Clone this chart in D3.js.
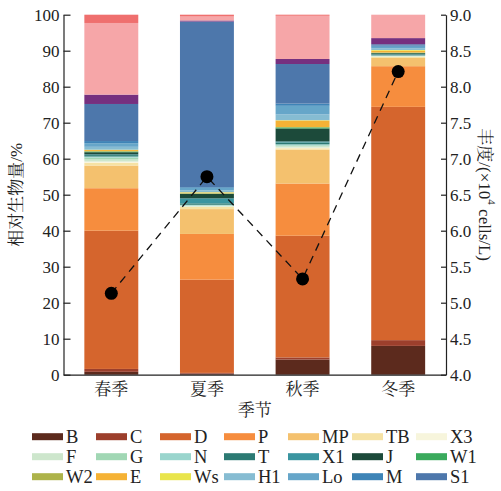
<!DOCTYPE html>
<html>
<head>
<meta charset="utf-8">
<script src="https://cdn.jsdelivr.net/npm/d3@7"></script>
<style>
  body { margin: 0; background: #fff; }
  text { font-family: "Liberation Serif", "Noto Serif CJK SC", "Noto Sans CJK SC", serif; fill: #222; }
</style>
</head>
<body>
<script>
var seasons = ['春季', '夏季', '秋季', '冬季']
var groups = ['B', 'C', 'D', 'P', 'MP', 'TB', 'X3', 'F', 'G', 'N', 'T', 'X1', 'J', 'W1',
              'W2', 'E', 'Ws', 'H1', 'Lo', 'M', 'S1', 'K1', 'K2', 'K3']
var legendGroups = groups.slice(0, 21)
var colors = ['#5c2a1d', '#9c3f2c', '#d5652d', '#f68d3e', '#f4c16e', '#f6e2a4', '#f7f5dc',
              '#cde6cc', '#a1d7b4', '#9ad5cd', '#2c7a73', '#3a95a0', '#1c4a3a', '#3aaa5c',
              '#adb34a', '#f5b235', '#e9e54c', '#86bcd2', '#66a6c9', '#3e84b7', '#4d77ab',
              '#76307f', '#f6a6a8', '#ef6f6e']
// relative biomass (%) per group, one value per season
var B  = [0.8, 0.3, 4.2, 8.0]
var C  = [0.8, 0.2, 0.6, 1.6]
var D  = [38.4, 25.9, 33.8, 64.8]
var P  = [11.8, 12.7, 14.5, 11.3]
var MP = [6.3, 6.9, 9.4, 2.3]
var TB = [0.8, 0.6, 0.4, 0.3]
var X3 = [0.3, 0.1, 0.2, 0.1]
var F  = [0.6, 0.2, 0.4, 0.1]
var G  = [0.5, 0.1, 0.2, 0.1]
var N  = [0.3, 0.2, 0.3, 0.1]
var T  = [0.4, 0.4, 0.5, 0.2]
var X1 = [0.2, 1.4, 0.3, 0.1]
var J  = [0.6, 1.2, 3.6, 0.3]
var W1 = [0.2, 0.1, 0.3, 0.1]
var W2 = [0.1, 0.1, 0.1, 0.1]
var E  = [0.3, 0.2, 1.8, 0.5]
var Ws = [0.1, 0.1, 0.1, 0.2]
var H1 = [0.8, 0.5, 1.6, 0.4]
var Lo = [1.0, 0.7, 2.4, 0.5]
var M  = [0.6, 0.2, 0.6, 0.3]
var S1 = [10.3, 46.0, 11.0, 0.4]
var K1 = [2.6, 0.3, 1.4, 1.7]
var K2 = [19.9, 1.1, 12.0, 6.5]
var K3 = [2.3, 0.5, 0.3, 0]
var values = [B, C, D, P, MP, TB, X3, F, G, N, T, X1, J, W1, W2, E, Ws, H1, Lo, M, S1, K1, K2, K3]
// abundance (x10^4 cells/L)
var abundance = [5.13, 6.75, 5.33, 8.21]
var leftTicks = [0, 10, 20, 30, 40, 50, 60, 70, 80, 90, 100]
var rightTicks = [4.0, 4.5, 5.0, 5.5, 6.0, 6.5, 7.0, 7.5, 8.0, 8.5, 9.0]

var width = 501
var height = 491
var plotLeft = 63.5, plotRight = 446, plotTop = 14.7, plotBottom = 374.7

var svg = d3.select('body').append('svg')
    .attr('width', width)
    .attr('height', height)

var table = seasons.map(function(s, i) {
    var row = { season: s }
    groups.forEach(function(g, k) { row[g] = values[k][i] })
    return row
})
var stacked = d3.stack().keys(groups)(table)

var x = d3.scaleBand().domain(seasons).range([plotLeft, plotRight])
    .paddingInner(0.436).paddingOuter(0.218)
var y = d3.scaleLinear().domain([0, 100]).range([plotBottom, plotTop])
var y2 = d3.scaleLinear().domain([4, 9]).range([plotBottom, plotTop])
var color = d3.scaleOrdinal().domain(groups).range(colors)

svg.append('g').selectAll('g')
    .data(stacked)
    .enter().append('g')
    .attr('fill', function(d) { return color(d.key) })
    .selectAll('rect')
    .data(function(d) { return d })
    .enter().append('rect')
    .attr('x', function(d) { return x(d.data.season) })
    .attr('width', x.bandwidth())
    .attr('y', function(d) { return y(d[1]) })
    .attr('height', function(d) { return Math.max(0, y(d[0]) - y(d[1])) })

// axes
var yAxis = svg.append('g')
    .attr('transform', 'translate(' + plotLeft + ',0)')
    .call(d3.axisRight(y).tickValues(leftTicks).tickSize(7).tickSizeOuter(0).tickFormat(d3.format('d')))
yAxis.selectAll('text').attr('x', -4).attr('text-anchor', 'end').style('font-size', '17px')

var y2Axis = svg.append('g')
    .attr('transform', 'translate(' + plotRight + ',0)')
    .call(d3.axisLeft(y2).tickValues(rightTicks).tickSize(5).tickSizeOuter(0).tickFormat(d3.format('.1f')))
y2Axis.selectAll('text').attr('x', 4).attr('text-anchor', 'start').style('font-size', '17px')

var xAxis = svg.append('g')
    .attr('transform', 'translate(0,' + plotBottom + ')')
    .call(d3.axisBottom(x).tickSize(0).tickSizeOuter(0))
xAxis.selectAll('text').attr('y', 8).style('font-size', '17px')

svg.selectAll('.domain').attr('stroke', '#222').attr('stroke-width', 1.2)
svg.selectAll('.tick line').attr('stroke', '#222').attr('stroke-width', 1.2)

// abundance line
var line = d3.line()
    .x(function(d, i) { return x(seasons[i]) + x.bandwidth() / 2 })
    .y(function(d) { return y2(d) })
svg.append('path')
    .datum(abundance)
    .attr('d', line)
    .attr('fill', 'none')
    .attr('stroke', '#111')
    .attr('stroke-width', 1.3)
    .attr('stroke-dasharray', '8,6')
svg.append('g').selectAll('circle')
    .data(abundance)
    .enter().append('circle')
    .attr('cx', function(d, i) { return x(seasons[i]) + x.bandwidth() / 2 })
    .attr('cy', function(d) { return y2(d) })
    .attr('r', 6.5)
    .attr('fill', '#000')

// axis titles
svg.append('text')
    .attr('transform', 'translate(16,' + ((plotTop + plotBottom) / 2) + ') rotate(-90)')
    .attr('text-anchor', 'middle')
    .attr('dominant-baseline', 'central')
    .style('font-size', '17px')
    .text('相对生物量/%')

var rt = svg.append('text')
    .attr('transform', 'translate(485,' + ((plotTop + plotBottom) / 2) + ') rotate(90)')
    .attr('text-anchor', 'middle')
    .attr('dominant-baseline', 'central')
    .style('font-size', '17px')
rt.append('tspan').text('丰度/(×10')
rt.append('tspan').attr('dy', -7).style('font-size', '11px').text('4')
rt.append('tspan').attr('dy', 7).text(' cells/L)')

svg.append('text')
    .attr('x', (plotLeft + plotRight) / 2)
    .attr('y', 416)
    .attr('text-anchor', 'middle')
    .style('font-size', '17px')
    .text('季节')

// legend
var legend = svg.append('g').selectAll('g')
    .data(legendGroups)
    .enter().append('g')
    .attr('transform', function(d, i) {
        return 'translate(' + (32 + (i % 7) * 64) + ',' + (436.7 + Math.floor(i / 7) * 20) + ')'
    })
legend.append('rect')
    .attr('x', 0).attr('y', -3.5)
    .attr('width', 31).attr('height', 7)
    .attr('fill', function(d) { return color(d) })
legend.append('text')
    .attr('x', 34).attr('y', 6)
    .style('font-size', '18.5px')
    .text(function(d) { return d })
</script>
</body>
</html>
